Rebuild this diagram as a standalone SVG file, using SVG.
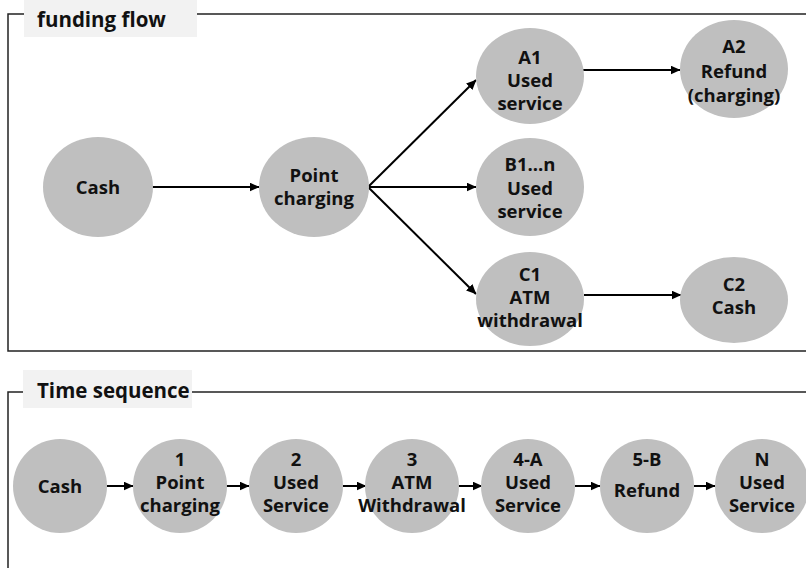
<svg xmlns="http://www.w3.org/2000/svg" width="806" height="568" viewBox="0 0 806 568">
<style>
.node{fill:#bfbfbf;}
.t{font-family:"Open Sans","Noto Sans",sans-serif;font-weight:bold;font-size:18.5px;fill:#111;text-anchor:middle;}
.lbl{font-family:"Open Sans","Noto Sans",sans-serif;font-weight:bold;font-size:20.5px;fill:#111;}
.frame{fill:none;stroke:#222;stroke-width:1.5;}
.c{fill:none;stroke:#000;stroke-width:2;marker-end:url(#ah);}
</style>
<defs>
<marker id="ah" viewBox="0 0 10 9" refX="9.5" refY="4.5" markerWidth="10" markerHeight="9" markerUnits="userSpaceOnUse" orient="auto"><path d="M0,0 L10,4.5 L0,9 z" fill="#000"/></marker>
</defs>
<rect width="806" height="568" fill="#fff"/>
<g id="frame-funding">
<path class="frame" d="M24,14 H8 V351 H806 M197,14 H806"/>
<rect x="24" y="0" width="173" height="37" fill="#f2f2f2"/>
<text class="lbl" x="37" y="27">funding flow</text>
</g>
<g id="frame-time">
<path class="frame" d="M23,392 H8 V568 M192,392 H806"/>
<rect x="23" y="370" width="169" height="38" fill="#f2f2f2"/>
<text class="lbl" x="37" y="398">Time sequence</text>
</g>
<g id="connectors">
<line class="c" x1="152" y1="187" x2="259" y2="187"/>
<line class="c" x1="368" y1="187" x2="476" y2="80"/>
<line class="c" x1="368" y1="187" x2="476" y2="187"/>
<line class="c" x1="368" y1="187" x2="476" y2="294"/>
<line class="c" x1="583" y1="70" x2="680" y2="70"/>
<line class="c" x1="584" y1="295" x2="681" y2="295"/>
<line class="c" x1="107" y1="486" x2="133" y2="486"/>
<line class="c" x1="226" y1="486" x2="249" y2="486"/>
<line class="c" x1="343" y1="486" x2="366" y2="486"/>
<line class="c" x1="458" y1="486" x2="482" y2="486"/>
<line class="c" x1="575" y1="486" x2="600" y2="486"/>
<line class="c" x1="694" y1="486" x2="715" y2="486"/>
</g>
<g id="n-cash"><ellipse class="node" cx="98" cy="187" rx="55" ry="50"/><text class="t" x="98" y="194">Cash</text></g>
<g id="n-point"><ellipse class="node" cx="314" cy="187" rx="55" ry="50"/><text class="t" x="314" y="182">Point</text><text class="t" x="314" y="205">charging</text></g>
<g id="n-a1"><ellipse class="node" cx="530" cy="76" rx="54" ry="48"/><text class="t" x="530" y="64">A1</text><text class="t" x="530" y="87">Used</text><text class="t" x="530" y="110">service</text></g>
<g id="n-a2"><ellipse class="node" cx="734" cy="69" rx="54" ry="49"/><text class="t" x="734" y="53">A2</text><text class="t" x="734" y="78">Refund</text><text class="t" x="734" y="102">(charging)</text></g>
<g id="n-b1"><ellipse class="node" cx="530" cy="187" rx="54" ry="49"/><text class="t" x="530" y="171">B1...n</text><text class="t" x="530" y="195">Used</text><text class="t" x="530" y="218">service</text></g>
<g id="n-c1"><ellipse class="node" cx="530" cy="299" rx="54" ry="47"/><text class="t" x="530" y="281">C1</text><text class="t" x="530" y="304">ATM</text><text class="t" x="530" y="327">withdrawal</text></g>
<g id="n-c2"><ellipse class="node" cx="734" cy="300" rx="54" ry="43"/><text class="t" x="734" y="291">C2</text><text class="t" x="734" y="314">Cash</text></g>
<g id="s-cash"><circle class="node" cx="60" cy="486" r="47"/><text class="t" x="60" y="493">Cash</text></g>
<g id="s-1"><circle class="node" cx="180" cy="486" r="47"/><text class="t" x="180" y="466">1</text><text class="t" x="180" y="489">Point</text><text class="t" x="180" y="512">charging</text></g>
<g id="s-2"><circle class="node" cx="296" cy="486" r="47"/><text class="t" x="296" y="466">2</text><text class="t" x="296" y="489">Used</text><text class="t" x="296" y="512">Service</text></g>
<g id="s-3"><circle class="node" cx="412" cy="486" r="47"/><text class="t" x="412" y="466">3</text><text class="t" x="412" y="489">ATM</text><text class="t" x="412" y="512">Withdrawal</text></g>
<g id="s-4a"><circle class="node" cx="528" cy="486" r="47"/><text class="t" x="528" y="466">4-A</text><text class="t" x="528" y="489">Used</text><text class="t" x="528" y="512">Service</text></g>
<g id="s-5b"><circle class="node" cx="647" cy="486" r="47"/><text class="t" x="647" y="466">5-B</text><text class="t" x="647" y="497">Refund</text></g>
<g id="s-n"><circle class="node" cx="762" cy="486" r="47"/><text class="t" x="762" y="466">N</text><text class="t" x="762" y="489">Used</text><text class="t" x="762" y="512">Service</text></g>
</svg>
